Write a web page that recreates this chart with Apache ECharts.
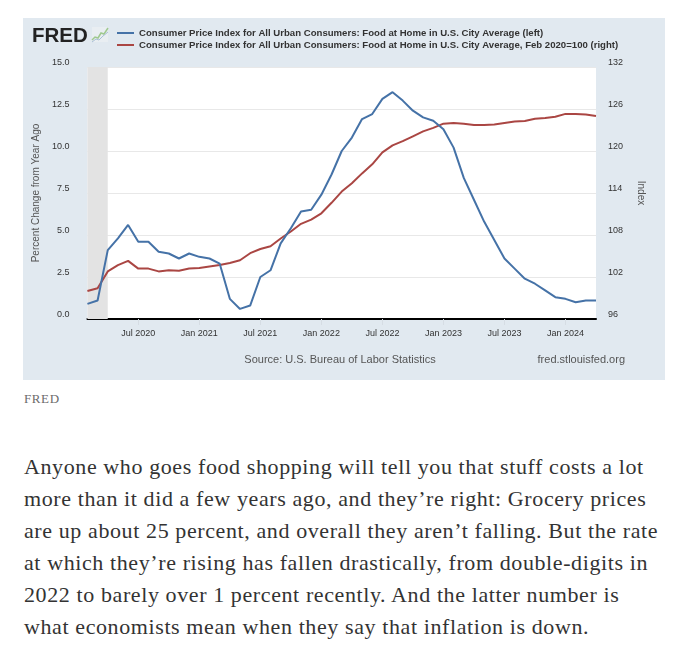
<!DOCTYPE html>
<html>
<head>
<meta charset="utf-8">
<script src="https://cdn.jsdelivr.net/npm/echarts@6/dist/echarts.min.js"></script>
<style>
  html, body { margin: 0; padding: 0; background: #ffffff; }
  body { width: 680px; height: 653px; position: relative; overflow: hidden; }
  #chart { position: absolute; left: 23px; top: 18px; width: 642px; height: 362px; }
  #caption { position: absolute; left: 24px; top: 390px; font-family: "Liberation Serif", serif; font-size: 13px; letter-spacing: 0.6px; color: #6b6b6b; line-height: 18px; }
  #para { position: absolute; left: 24px; top: 451px; font-family: "Liberation Serif", serif; font-size: 22px; letter-spacing: 0.6px; line-height: 32px; color: #333333; white-space: nowrap; }
</style>
</head>
<body>
<div id="chart"></div>
<div id="caption">FRED</div>
<div id="para">Anyone who goes food shopping will tell you that stuff costs a lot<br>more than it did a few years ago, and they’re right: Grocery prices<br>are up about 25 percent, and overall they aren’t falling. But the rate<br>at which they’re rising has fallen drastically, from double-digits in<br>2022 to barely over 1 percent recently. And the latter number is<br>what economists mean when they say that inflation is down.</div>
<script>
// Months, Feb 2020 .. Apr 2024
const months = [
  '2020-02','2020-03','2020-04','2020-05','2020-06','2020-07','2020-08','2020-09','2020-10','2020-11','2020-12',
  '2021-01','2021-02','2021-03','2021-04','2021-05','2021-06','2021-07','2021-08','2021-09','2021-10','2021-11','2021-12',
  '2022-01','2022-02','2022-03','2022-04','2022-05','2022-06','2022-07','2022-08','2022-09','2022-10','2022-11','2022-12',
  '2023-01','2023-02','2023-03','2023-04','2023-05','2023-06','2023-07','2023-08','2023-09','2023-10','2023-11','2023-12',
  '2024-01','2024-02','2024-03','2024-04'
];
// Percent change from year ago (left axis)
const yoyPct = [
  0.9, 1.1, 4.1, 4.8, 5.6, 4.6, 4.6, 4.0, 3.9, 3.6, 3.9,
  3.7, 3.6, 3.3, 1.2, 0.6, 0.8, 2.5, 2.9, 4.5, 5.4, 6.4, 6.5,
  7.4, 8.6, 10.0, 10.8, 11.9, 12.2, 13.1, 13.5, 13.0, 12.4, 12.0, 11.8,
  11.3, 10.2, 8.4, 7.1, 5.8, 4.7, 3.6, 3.0, 2.4, 2.1, 1.7, 1.3,
  1.2, 1.0, 1.1, 1.1
];
// Index, Feb 2020 = 100 (right axis)
const indexFeb2020 = [
  100.0, 100.4, 102.8, 103.7, 104.3, 103.2, 103.2, 102.8, 102.95, 102.9, 103.2,
  103.3, 103.5, 103.7, 104.0, 104.4, 105.4, 106.0, 106.4, 107.5, 108.5, 109.6, 110.2,
  111.1, 112.6, 114.2, 115.4, 116.8, 118.1, 119.8, 120.8, 121.4, 122.1, 122.8, 123.3,
  123.9, 124.0, 123.9, 123.7, 123.7, 123.8, 124.0, 124.2, 124.3, 124.6, 124.7, 124.9,
  125.3, 125.3, 125.2, 125.0
];
const recession = ['2020-02', '2020-04'];
const seriesNames = [
  'Consumer Price Index for All Urban Consumers: Food at Home in U.S. City Average (left)',
  'Consumer Price Index for All Urban Consumers: Food at Home in U.S. City Average, Feb 2020=100 (right)'
];
const leftAxisName = 'Percent Change from Year Ago';
const rightAxisName = 'Index';
const sourceText = 'Source: U.S. Bureau of Labor Statistics';
const siteText = 'fred.stlouisfed.org';
const monthAbbr = ['Jan','Feb','Mar','Apr','May','Jun','Jul','Aug','Sep','Oct','Nov','Dec'];

function isTickMonth(v) {
  const m = +v.split('-')[1];
  return m === 1 || m === 7;
}

const chart = echarts.init(document.getElementById('chart'), null, { renderer: 'canvas' });
const FONT = '"Liberation Sans", Arial, sans-serif';

chart.setOption({
  animation: false,
  backgroundColor: '#e1e9f0',
  textStyle: { fontFamily: FONT },
  legend: {
    orient: 'vertical',
    left: 94,
    top: 9,
    itemWidth: 17,
    itemHeight: 2,
    itemGap: 0,
    icon: 'rect',
    padding: 0,
    textStyle: { fontSize: 9.6, fontWeight: 'bold', color: '#333333', lineHeight: 12, fontFamily: FONT },
    data: seriesNames
  },
  grid: {
    left: 64, top: 49, width: 509, height: 252,
    show: true, backgroundColor: '#ffffff', borderWidth: 0
  },
  xAxis: {
    type: 'category',
    data: months,
    boundaryGap: false,
    axisLine: { lineStyle: { color: '#000000', width: 2 } },
    axisTick: { show: true, interval: (i, v) => isTickMonth(v), length: 6, lineStyle: { color: '#d6dde4' } },
    axisLabel: {
      interval: (i, v) => isTickMonth(v),
      formatter: v => { const p = v.split('-'); return monthAbbr[+p[1] - 1] + ' ' + p[0]; },
      fontSize: 9, color: '#333333', margin: 10, fontFamily: FONT
    },
    splitLine: { show: false }
  },
  yAxis: [
    {
      type: 'value', min: 0, max: 15, interval: 2.5,
      name: leftAxisName, nameLocation: 'middle', nameGap: 45,
      nameTextStyle: { fontSize: 10, color: '#555555', fontFamily: FONT },
      axisLine: { show: false }, axisTick: { show: false },
      axisLabel: { formatter: v => v.toFixed(1), fontSize: 9, color: '#333333', margin: 18, verticalAlign: 'bottom', lineHeight: 9, fontFamily: FONT },
      splitLine: { lineStyle: { color: '#e8e8e8', width: 1 } }
    },
    {
      type: 'value', min: 96, max: 132, interval: 6, position: 'right',
      name: rightAxisName, nameLocation: 'middle', nameGap: 40, nameRotate: -90,
      nameTextStyle: { fontSize: 10, color: '#555555', fontFamily: FONT },
      axisLine: { show: false }, axisTick: { show: false },
      axisLabel: { fontSize: 9, color: '#333333', margin: 12, verticalAlign: 'bottom', lineHeight: 9, fontFamily: FONT },
      splitLine: { show: false }
    }
  ],
  series: [
    {
      name: seriesNames[0], type: 'line', yAxisIndex: 0, data: yoyPct,
      showSymbol: false, symbol: 'none',
      lineStyle: { color: '#4572a7', width: 2 }, itemStyle: { color: '#4572a7' },
      markArea: {
        silent: true,
        itemStyle: { color: '#e3e3e3' },
        data: [[{ xAxis: recession[0] }, { xAxis: recession[1] }]]
      },
      z: 3
    },
    {
      name: seriesNames[1], type: 'line', yAxisIndex: 1, data: indexFeb2020,
      showSymbol: false, symbol: 'none',
      lineStyle: { color: '#aa4643', width: 2 }, itemStyle: { color: '#aa4643' },
      z: 2
    }
  ],
  graphic: [
    { type: 'text', left: 9, top: 8, style: { text: 'FRED', font: '900 20.5px "Liberation Sans", Arial, sans-serif', fill: '#222222' } },
    { type: 'rect', shape: { x: 69, y: 9, width: 16, height: 15 }, style: { fill: '#e9eef2' } },
    { type: 'polyline', shape: { points: [[69, 22], [72, 19], [75, 20], [78, 15], [81, 16], [85, 10]] }, style: { stroke: '#9fc98f', lineWidth: 1.5, fill: null } },
    { type: 'polyline', shape: { points: [[69, 24], [73, 21], [76, 22], [80, 18], [85, 14]] }, style: { stroke: '#a9bfd6', lineWidth: 1, fill: null } },
    { type: 'text', x: 317, y: 342, style: { text: sourceText, font: '11px "Liberation Sans", Arial, sans-serif', fill: '#555555', align: 'center', verticalAlign: 'middle' } },
    { type: 'text', x: 602, y: 342, style: { text: siteText, font: '11px "Liberation Sans", Arial, sans-serif', fill: '#555555', align: 'right', verticalAlign: 'middle' } }
  ]
});
</script>
</body>
</html>
